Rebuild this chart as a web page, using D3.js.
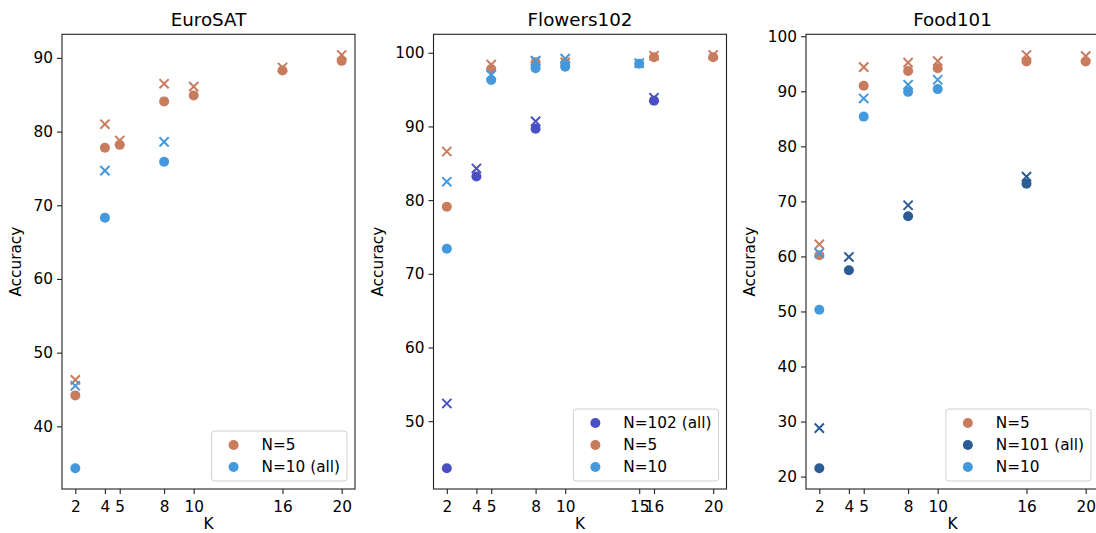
<!DOCTYPE html>
<html>
<head>
<meta charset="utf-8">
<script src="https://cdn.jsdelivr.net/npm/d3@7"></script>
<style>
  body { margin: 0; background: #fff; }
  text { font-family: "DejaVu Sans", sans-serif; fill: #000; }
</style>
</head>
<body>
<div id="chart-area"></div>
<script>
// EuroSAT
var euroN5K = [2, 4, 5, 8, 10, 16, 20];
var euroN5Dot = [44.2, 77.8, 78.2, 84.1, 84.9, 88.3, 89.6];
var euroN5Cross = [46.3, 81.0, 78.8, 86.5, 86.1, 88.7, 90.4];
var euroN10K = [2, 4, 8];
var euroN10Dot = [34.3, 68.3, 75.9];
var euroN10Cross = [45.5, 74.7, 78.6];
var euroTicksX = [2, 4, 5, 8, 10, 16, 20];
var euroTicksY = [40, 50, 60, 70, 80, 90];

// Flowers102
var flowN102K = [2, 4, 8, 16];
var flowN102Dot = [43.6, 83.2, 89.7, 93.5];
var flowN102Cross = [52.4, 84.3, 90.7, 93.9];
var flowN5K = [2, 5, 8, 10, 16, 20];
var flowN5Dot = [79.1, 97.8, 98.7, 98.6, 99.4, 99.4];
var flowN5Cross = [86.6, 98.4, 98.9, 98.7, 99.6, 99.7];
var flowN10K = [2, 5, 8, 10, 15];
var flowN10Dot = [73.4, 96.3, 97.9, 98.1, 98.5];
var flowN10Cross = [82.5, 97.0, 98.9, 99.2, 98.6];
var flowTicksX = [2, 4, 5, 8, 10, 15, 16, 20];
var flowTicksY = [50, 60, 70, 80, 90, 100];

// Food101
var foodN5K = [2, 5, 8, 10, 16, 20];
var foodN5Dot = [60.2, 91.0, 93.7, 94.2, 95.4, 95.4];
var foodN5Cross = [62.2, 94.4, 95.2, 95.5, 96.6, 96.4];
var foodN101K = [2, 4, 8, 16];
var foodN101Dot = [21.5, 57.5, 67.3, 73.2];
var foodN101Cross = [28.8, 59.9, 69.3, 74.5];
var foodN10K = [2, 5, 8, 10];
var foodN10Dot = [50.3, 85.4, 89.9, 90.4];
var foodN10Cross = [60.6, 88.7, 91.2, 92.1];
var foodTicksX = [2, 4, 5, 8, 10, 16, 20];
var foodTicksY = [20, 30, 40, 50, 60, 70, 80, 90, 100];

var orange = "#c97b5e", lightBlue = "#4499dc", navy = "#2b5d94", indigo = "#4b4fc4";

var panels = [
  { title: "EuroSAT", left: 62, ticksX: euroTicksX, ticksY: euroTicksY, series: [
    { label: "N=5", color: orange, k: euroN5K, dot: euroN5Dot, cross: euroN5Cross },
    { label: "N=10 (all)", color: lightBlue, k: euroN10K, dot: euroN10Dot, cross: euroN10Cross }
  ]},
  { title: "Flowers102", left: 433.5, ticksX: flowTicksX, ticksY: flowTicksY, series: [
    { label: "N=102 (all)", color: indigo, k: flowN102K, dot: flowN102Dot, cross: flowN102Cross },
    { label: "N=5", color: orange, k: flowN5K, dot: flowN5Dot, cross: flowN5Cross },
    { label: "N=10", color: lightBlue, k: flowN10K, dot: flowN10Dot, cross: flowN10Cross }
  ]},
  { title: "Food101", left: 806, ticksX: foodTicksX, ticksY: foodTicksY, series: [
    { label: "N=5", color: orange, k: foodN5K, dot: foodN5Dot, cross: foodN5Cross },
    { label: "N=101 (all)", color: navy, k: foodN101K, dot: foodN101Dot, cross: foodN101Cross },
    { label: "N=10", color: lightBlue, k: foodN10K, dot: foodN10Dot, cross: foodN10Cross }
  ]}
];

var svgW = 1096, svgH = 533;
var plotTop = 34.3, plotBottom = 489, pw = 293;
var fs = 15.3;

var svg = d3.select("#chart-area").append("svg")
  .attr("width", svgW)
  .attr("height", svgH);

panels.forEach(function(p) {
  var g = svg.append("g")
    .attr("transform", "translate(" + p.left + "," + plotTop + ")");
  var h = plotBottom - plotTop;

  // y extent with matplotlib-like 5% margins
  var all = [];
  p.series.forEach(function(s) { all = all.concat(s.dot, s.cross); });
  var lo = d3.min(all), hi = d3.max(all), pad = (hi - lo) * 0.05;

  var x = d3.scaleLinear().domain([1.1, 20.9]).range([0, pw]);
  var y = d3.scaleLinear().domain([lo - pad, hi + pad]).range([h, 0]);

  // markers: crosses then dots, per series
  p.series.forEach(function(s) {
    var pts = s.k.map(function(k, i) { return { k: k, dot: s.dot[i], cross: s.cross[i] }; });
    g.selectAll(null).data(pts).enter().append("path")
      .attr("transform", function(d) { return "translate(" + x(d.k) + "," + y(d.cross) + ")"; })
      .attr("d", "M-4.6,-4.6L4.6,4.6M-4.6,4.6L4.6,-4.6")
      .attr("stroke", s.color)
      .attr("stroke-width", 2)
      .attr("fill", "none");
    g.selectAll(null).data(pts).enter().append("circle")
      .attr("cx", function(d) { return x(d.k); })
      .attr("cy", function(d) { return y(d.dot); })
      .attr("r", 5)
      .attr("fill", s.color);
  });

  // X Axis
  var xAxis = g.append("g")
    .attr("transform", "translate(0," + h + ")")
    .call(d3.axisBottom(x).tickValues(p.ticksX).tickSize(5).tickPadding(4).tickSizeOuter(0));
  xAxis.selectAll("text").attr("y", 12);

  // Y Axis
  var yAxis = g.append("g")
    .call(d3.axisLeft(y).tickValues(p.ticksY).tickSize(5).tickPadding(4).tickSizeOuter(0));

  [xAxis, yAxis].forEach(function(a) {
    a.select(".domain").remove();
    a.selectAll("line").attr("stroke", "#222").attr("stroke-width", 1.1);
    a.selectAll("text")
      .attr("font-family", "DejaVu Sans")
      .attr("font-size", fs)
      .attr("fill", "#000");
  });

  // frame
  g.append("rect")
    .attr("width", pw)
    .attr("height", h)
    .attr("fill", "none")
    .attr("stroke", "#222")
    .attr("stroke-width", 1.1);

  // Title
  g.append("text")
    .attr("x", pw / 2)
    .attr("y", 26 - plotTop)
    .attr("text-anchor", "middle")
    .attr("font-size", 18.3)
    .text(p.title);

  // X Label
  g.append("text")
    .attr("x", pw / 2)
    .attr("y", 529.5 - plotTop)
    .attr("text-anchor", "middle")
    .attr("font-size", fs)
    .text("K");

  // Y Label
  var maxW = 0;
  yAxis.selectAll("text").each(function() { maxW = Math.max(maxW, this.getComputedTextLength()); });
  g.append("text")
    .attr("transform", "translate(" + (-21.3 - maxW) + "," + (h / 2) + ") rotate(-90)")
    .attr("text-anchor", "middle")
    .attr("font-size", fs)
    .text("Accuracy");

  // Legend
  var n = p.series.length;
  var leg = g.append("g");
  var box = leg.append("rect");
  var labels = leg.selectAll(null).data(p.series).enter().append("text")
    .attr("font-size", fs)
    .text(function(s) { return s.label; });
  var tw = 0;
  labels.each(function() { tw = Math.max(tw, this.getComputedTextLength()); });
  var lw = 50 + tw + 7, lh = 22 * n + 6;
  var lx = pw - 8 - lw, ly = h - 8 - lh;
  box.attr("x", lx).attr("y", ly)
    .attr("width", lw).attr("height", lh)
    .attr("rx", 3)
    .attr("fill", "#fff").attr("fill-opacity", 0.8)
    .attr("stroke", "#d0d0d0").attr("stroke-width", 1);
  labels.attr("x", lx + 50)
    .attr("y", function(s, i) { return ly + 14 + 22 * i + 5.5; });
  leg.selectAll(null).data(p.series).enter().append("circle")
    .attr("cx", lx + 22)
    .attr("cy", function(s, i) { return ly + 14 + 22 * i; })
    .attr("r", 5)
    .attr("fill", function(s) { return s.color; });
});
</script>
</body>
</html>
